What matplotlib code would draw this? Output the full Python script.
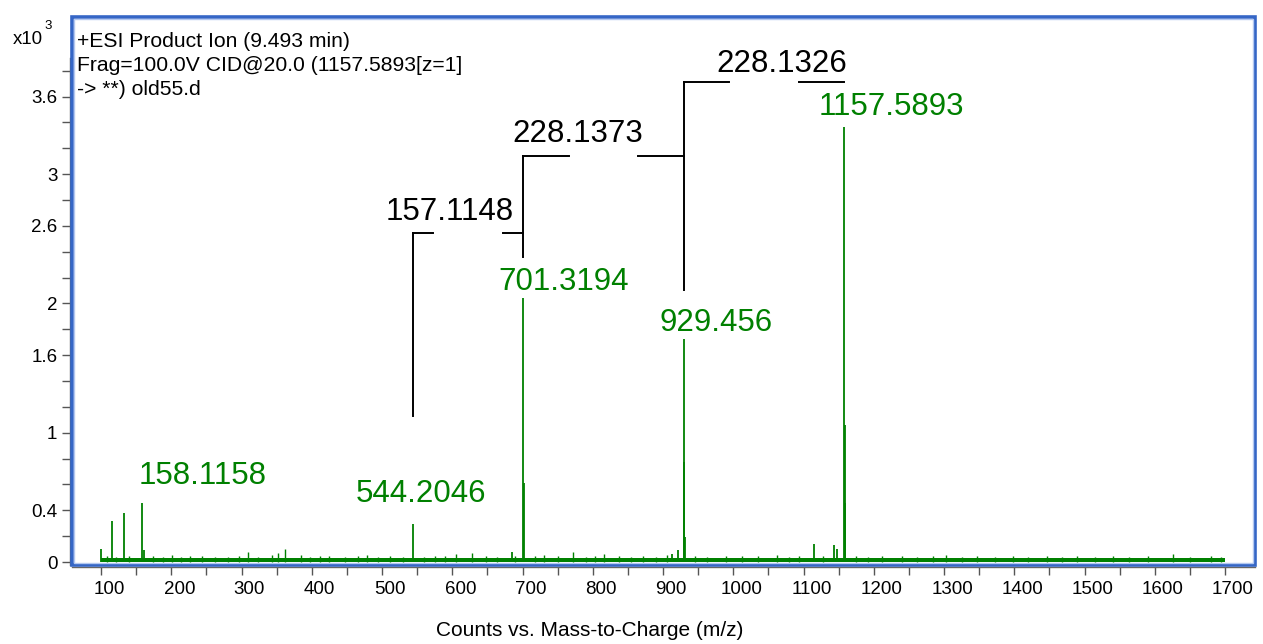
"""MS/MS product ion spectrum with annotated fragment ladder."""
import matplotlib
matplotlib.use("Agg")
import matplotlib.pyplot as plt
import numpy as np
from matplotlib.patches import Rectangle
from matplotlib.ticker import FixedLocator, FuncFormatter, NullFormatter
import matplotlib.transforms as mtransforms

# ---- data (counts, m/z) ----
peak_mz = [100.0, 115.7, 132.7, 158.1158, 161.0, 544.2046, 685.3, 701.3194,
           702.3, 913.4, 921.0, 929.456, 930.46, 931.46, 1115.0, 1144.0,
           1148.0, 1157.5893, 1158.59, 1159.59]
peak_counts = [100, 317, 380, 456, 90, 294, 80, 2040,
               610, 60, 90, 1725, 770, 190, 140, 130,
               100, 3364, 1060, 460]

noise_mz = [108, 122, 140, 174, 188, 201, 214, 226, 244, 262, 281, 296, 309,
            323, 343, 352, 362, 384, 398, 412, 425, 447, 466, 479, 495, 512,
            530, 560, 575, 589, 605, 628, 648, 663, 690, 718, 730, 751, 772,
            790, 803, 816, 838, 855, 871, 890, 905, 945, 962, 990, 1012,
            1035, 1062, 1080, 1094, 1128, 1175, 1192, 1212, 1240, 1262,
            1285, 1303, 1325, 1347, 1372, 1398, 1420, 1447, 1468, 1490,
            1515, 1540, 1563, 1590, 1626, 1650, 1680, 1695]
noise_counts = [45, 40, 50, 45, 40, 55, 40, 50, 45, 40, 40, 45, 80,
                40, 55, 70, 100, 55, 40, 45, 50, 40, 45, 55, 40, 45,
                40, 40, 45, 50, 60, 70, 45, 40, 50, 45, 55, 45, 80,
                40, 50, 60, 45, 40, 50, 40, 55, 45, 40, 50, 45,
                45, 55, 40, 45, 45, 50, 40, 45, 50, 40,
                45, 55, 40, 45, 40, 45, 40, 50, 40, 45,
                40, 45, 40, 45, 60, 40, 45, 40]
baseline_mz = [100, 1700]
baseline_counts = [28, 28]

# labelled peaks
label_text = ["158.1158", "544.2046", "701.3194", "929.456", "1157.5893"]

# fragment ladder: mass differences between consecutive labelled ions
ladder_left = [544.2046, 701.3194, 929.456]
ladder_right = [701.3194, 929.456, 1157.5893]
ladder_text = ["157.1148", "228.1373", "228.1326"]

x_ticks = list(range(100, 1701, 100))
x_minor = list(range(150, 1700, 100))
y_tick_labels = {0: "0", 400: "0.4", 1000: "1", 1600: "1.6", 2000: "2",
                 2600: "2.6", 3000: "3", 3600: "3.6"}

header = ["+ESI Product Ion (9.493 min)",
          "Frag=100.0V CID@20.0 (1157.5893[z=1]",
          "-> **) old55.d"]

# ---- layout ----
green = "#008000"
frame_blue = "#3566c6"
plt.rcParams["font.family"] = ["Liberation Sans", "DejaVu Sans"]

# label placement (x center, baseline) in data units
label_pos = [(245, 603), (556, 464), (759, 2104), (975, 1787), (1225, 3457)]
ladder_level = [2544, 3140, 3712]
ladder_drop = [1129, 2360, 2100]      # lower end of the vertical at left ion
ladder_text_pos = [(597, 2645), (779, 3248), (1069, 3790)]
gap_half = 49.5

fig = plt.figure(figsize=(12.63, 6.44), dpi=100)
ax = fig.add_axes([72 / 1263, 1 - 565 / 644, 1183 / 1263, 548 / 644])
ax.set_xlim(58.7, 1742.7)
ax.set_ylim(-23, 4215)

ax.fill_between(baseline_mz, 0, baseline_counts, color=green, lw=0)
ax.vlines(noise_mz, 0, noise_counts, color=green, lw=1.0)
ax.vlines(peak_mz, 0, peak_counts, color=green, lw=1.3)

for (x, y), t in zip(label_pos, label_text):
    ax.text(x, y, t, color=green, fontsize=22.5, ha="center", va="baseline")

for i in range(len(ladder_text)):
    l, r, lev = ladder_left[i], ladder_right[i], ladder_level[i]
    mid = (l + r) / 2
    ax.plot([l, l], [ladder_drop[i], lev], color="black", lw=1.4)
    ax.plot([l, mid - gap_half], [lev, lev], color="black", lw=1.4)
    ax.plot([mid + gap_half, r], [lev, lev], color="black", lw=1.4)
    tx, ty = ladder_text_pos[i]
    ax.text(tx, ty, ladder_text[i], color="black", fontsize=22.5,
            ha="center", va="baseline")

# axes / ticks
ax.xaxis.set_major_locator(FixedLocator(x_ticks))
ax.xaxis.set_minor_locator(FixedLocator(x_minor))
ax.xaxis.set_major_formatter(NullFormatter())
ax.yaxis.set_major_locator(FixedLocator(np.arange(0, 3801, 200)))
ax.yaxis.set_major_formatter(
    FuncFormatter(lambda v, p: y_tick_labels.get(int(round(v)), "")))
ax.tick_params(which="both", direction="out", length=6, width=1,
               color="#555555", labelsize=13.5, labelcolor="black")
ax.tick_params(axis="y", pad=3)

# x tick labels sit a little right of their ticks in the original
xlab_tr = mtransforms.blended_transform_factory(ax.transData, ax.transAxes) + \
    mtransforms.ScaledTranslation(8 / 100, -29 / 100, fig.dpi_scale_trans)
for v in x_ticks:
    ax.text(v, 0, str(v), transform=xlab_tr, fontsize=13.5,
            ha="center", va="baseline", clip_on=False)

for s in ["top", "right"]:
    ax.spines[s].set_visible(False)
for s in ["left", "bottom"]:
    ax.spines[s].set_color("#666666")
    ax.spines[s].set_linewidth(1)
    ax.spines[s].set_position(("outward", 1.5))
ax.spines["left"].set_bounds(-23, 3900)

ax.add_patch(Rectangle((0, 0), 1, 1, transform=ax.transAxes, fill=False,
                       ec=frame_blue, lw=2.6, clip_on=False, zorder=5))
ax.add_patch(Rectangle((2.2 / 1183, 2.2 / 548), 1 - 4.4 / 1183, 1 - 4.4 / 548,
                       transform=ax.transAxes, fill=False, ec="#b4c8f0",
                       lw=1.0, clip_on=False, zorder=5))

# header text and axis labels (figure coords)
for i, line in enumerate(header):
    fig.text(77 / 1263, 1 - (47 + 24 * i) / 644, line, fontsize=15.2,
             ha="left", va="baseline")
fig.text(13 / 1263, 1 - 44 / 644, "x10", fontsize=13.4, ha="left", va="baseline")
fig.text(44 / 1263, 1 - 29 / 644, "3", fontsize=9.5, ha="left", va="baseline")
fig.text(590 / 1263, 1 - 636 / 644, "Counts vs. Mass-to-Charge (m/z)",
         fontsize=15, ha="center", va="baseline")

fig.savefig("out.png", dpi=100)
